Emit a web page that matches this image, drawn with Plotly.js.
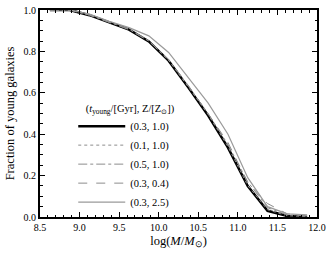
<!DOCTYPE html>
<html>
<head>
<meta charset="utf-8">
<script src="https://cdn.plot.ly/plotly-3.0.1.min.js"></script>
<style>html,body{margin:0;padding:0;background:#fff;}#chart{width:333px;height:254px;}</style>
</head>
<body>
<div id="chart"></div>
<script>
const logMass = [8.625, 8.875, 9.125, 9.375, 9.625, 9.875, 10.125, 10.375, 10.625, 10.875, 11.125, 11.375, 11.625, 11.875];
const frac_03_10 = [1.0, 1.0, 0.975, 0.94, 0.905, 0.848, 0.755, 0.625, 0.49, 0.335, 0.15, 0.03, 0.005, 0.0];
const frac_01_10 = [1.0, 1.0, 0.976, 0.942, 0.907, 0.85, 0.757, 0.628, 0.495, 0.34, 0.152, 0.035, 0.006, 0.002];
const frac_05_10 = [1.0, 1.0, 0.976, 0.942, 0.908, 0.852, 0.76, 0.632, 0.5, 0.35, 0.17, 0.045, 0.01, 0.005];
const frac_03_04 = [1.0, 1.0, 0.975, 0.94, 0.905, 0.85, 0.76, 0.635, 0.5, 0.36, 0.165, 0.065, 0.015, 0.005];
const frac_03_25 = [1.0, 1.0, 0.98, 0.945, 0.915, 0.875, 0.795, 0.675, 0.55, 0.40, 0.19, 0.05, 0.015, 0.01];
const seriesNames = ['(0.3, 1.0)', '(0.1, 1.0)', '(0.5, 1.0)', '(0.3, 0.4)', '(0.3, 2.5)'];
const xTicks = [8.5, 9.0, 9.5, 10.0, 10.5, 11.0, 11.5, 12.0];
const xTickText = ['8.5', '9.0', '9.5', '10.0', '10.5', '11.0', '11.5', '12.0'];
const yTicks = [0.0, 0.2, 0.4, 0.6, 0.8, 1.0];
const yTickText = ['0.0', '0.2', '0.4', '0.6', '0.8', '1.0'];

const serif = 'Liberation Serif, Times New Roman, serif';
const ys = [frac_03_10, frac_01_10, frac_05_10, frac_03_04, frac_03_25];
const styles = [
  {color: '#000000', width: 2.5, dash: 'solid'},
  {color: '#8c8c8c', width: 1, dash: 'dot'},
  {color: '#8c8c8c', width: 1, dash: 'dashdot'},
  {color: '#8c8c8c', width: 1, dash: 'dash'},
  {color: '#9a9a9a', width: 1.2, dash: 'solid'}
];
const data = ys.map((y, i) => ({
  x: logMass, y: y, type: 'scatter', mode: 'lines', name: seriesNames[i],
  line: styles[i]
}));

const axisCommon = {
  showline: true, linecolor: '#000', linewidth: 2, mirror: 'allticks',
  ticks: 'inside', ticklen: 5, tickwidth: 1, tickcolor: '#000',
  showgrid: false, zeroline: false,
  tickfont: {family: serif, size: 10, color: '#000'}
};
const layout = {
  width: 333, height: 254,
  margin: {l: 40, r: 16, t: 10, b: 37},
  paper_bgcolor: '#fff', plot_bgcolor: '#fff',
  showlegend: true,
  legend: {
    x: 0.12, y: 0.575, xanchor: 'left', yanchor: 'top',
    bgcolor: 'rgba(0,0,0,0)', borderwidth: 0,
    font: {family: serif, size: 10.5, color: '#000'},
    itemwidth: 47, tracegroupgap: 0,
    title: {text: '&nbsp;&nbsp;&nbsp;&nbsp;(<i>t</i><sub>young</sub>/[Gyr], Z/[Z<sub>⊙</sub>])', font: {family: serif, size: 10.5, color: '#000'}}
  },
  xaxis: Object.assign({}, axisCommon, {
    range: [8.5, 12.0], tickvals: xTicks, ticktext: xTickText,
    minor: {dtick: 0.1, ticks: 'inside', ticklen: 2.5, tickcolor: '#000', showgrid: false},
    title: {text: 'log(<i>M</i>/<i>M</i><sub>⊙</sub>)', font: {family: serif, size: 12.5, color: '#000'}, standoff: 4}
  }),
  yaxis: Object.assign({}, axisCommon, {
    range: [0, 1.0], tickvals: yTicks, ticktext: yTickText,
    minor: {dtick: 0.05, ticks: 'inside', ticklen: 2.5, tickcolor: '#000', showgrid: false},
    title: {text: 'Fraction of young galaxies', font: {family: serif, size: 12.5, color: '#000'}, standoff: 6}
  })
};
Plotly.newPlot('chart', data, layout, {displayModeBar: false, staticPlot: true});
</script>
</body>
</html>
